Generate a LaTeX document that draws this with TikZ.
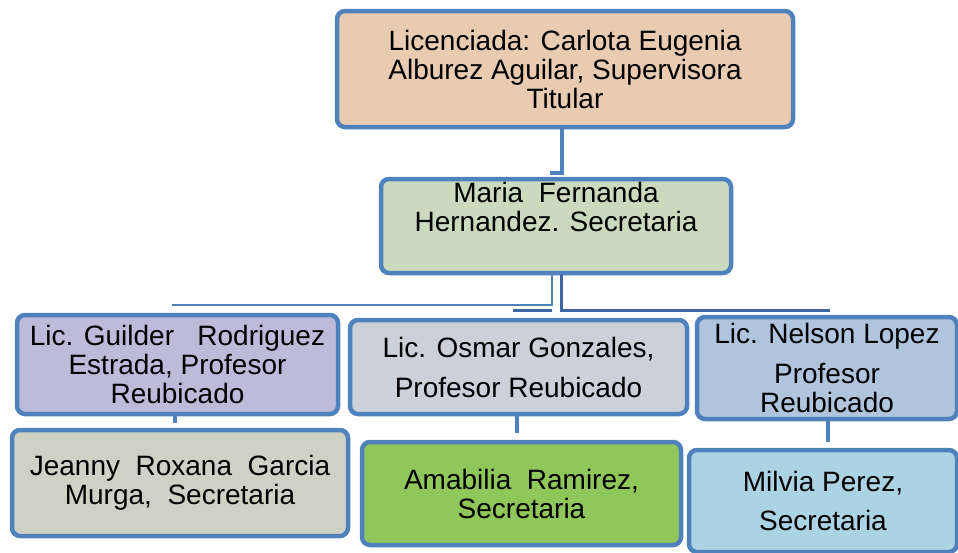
\documentclass[tikz,border=0pt]{standalone}
\usepackage{fontspec}
\setmainfont{Liberation Sans}
\usetikzlibrary{positioning}

\definecolor{boxline}{RGB}{79,129,189}
\definecolor{linkdark}{RGB}{62,102,160}
\definecolor{supfill}{RGB}{233,203,178}
\definecolor{secfill}{RGB}{203,218,191}
\definecolor{guifill}{RGB}{190,186,218}
\definecolor{osmfill}{RGB}{204,208,216}
\definecolor{nelfill}{RGB}{176,196,222}
\definecolor{jeafill}{RGB}{207,209,196}
\definecolor{amafill}{RGB}{144,199,91}
\definecolor{milfill}{RGB}{172,211,227}

\begin{document}
\begin{tikzpicture}[
    x=1pt, y=-1pt,
    box/.style={draw=boxline, line width=4.5pt, rounded corners=8pt,
        align=center, inner sep=0pt, font=\fontsize{28}{29}\selectfont},
    link/.style={draw=boxline, line width=3.5pt},
    thinlink/.style={draw=boxline, line width=2.5pt},
    darklink/.style={draw=linkdark, line width=3pt}
]
    \useasboundingbox (0,0) rectangle (958,552);

    % Boxes
    \node[box, fill=supfill, minimum width=456pt, minimum height=116pt] (Sup) at (565,69)
        {Licenciada: Carlota Eugenia\\Alburez Aguilar, Supervisora\\Titular};
    \node[box, fill=secfill, minimum width=350pt, minimum height=94pt] (Sec) at (556,226)
        {Maria\ \ Fernanda\\Hernandez. Secretaria\\[0pt]\strut};

    \node[box, fill=guifill, minimum width=321pt, minimum height=99pt] (Gui) at (177.5,364.5)
        {Lic. Guilder\ \ \ Rodriguez\\Estrada, Profesor\\Reubicado};
    \node[box, fill=osmfill, minimum width=337pt, minimum height=94pt] (Osm) at (518.5,367)
        {Lic. Osmar Gonzales,\\[11pt]Profesor Reubicado};
    \node[box, fill=nelfill, minimum width=260pt, minimum height=102pt] (Nel) at (827,368)
        {Lic. Nelson Lopez\\[11pt]Profesor\\Reubicado};

    \node[box, fill=jeafill, minimum width=336pt, minimum height=106pt] (Jea) at (180,483)
        {Jeanny\ \ Roxana\ \ Garcia\\Murga,\ \ Secretaria};
    \node[box, fill=amafill, minimum width=319pt, minimum height=103pt] (Ama) at (521.5,493.5)
        {Amabilia\ \ Ramirez,\\Secretaria};
    \node[box, fill=milfill, minimum width=268pt, minimum height=102pt] (Mil) at (823,501)
        {Milvia Perez,\\[10pt]Secretaria};

    % Connectors
    \coordinate (hook) at (550,173);
    \coordinate (busL) at (172,305);
    \coordinate (busR) at (830,310);
    \coordinate (busB) at (513,310);

    \draw[link] ([xshift=-3pt]Sup.south) |- (hook);
    \draw[thinlink] ([xshift=-4pt]Sec.south) |- (busL);
    \draw[darklink] ([xshift=5pt]Sec.south) |- (busR);
    \draw[darklink] ([xshift=-4pt]Sec.south |- busB) -- (busB);

    \draw[link] ([xshift=-2.5pt]Gui.south) -- ([xshift=-2.5pt,yshift=5pt]Gui.south |- Jea.north);
    \draw[link] ([xshift=-1.5pt]Osm.south) -- ([xshift=-1.5pt,yshift=7pt]Osm.south |- Ama.north);
    \draw[link] ([xshift=1pt]Nel.south) -- ([xshift=1pt,yshift=6pt]Nel.south |- Mil.north);

\end{tikzpicture}
\end{document}
